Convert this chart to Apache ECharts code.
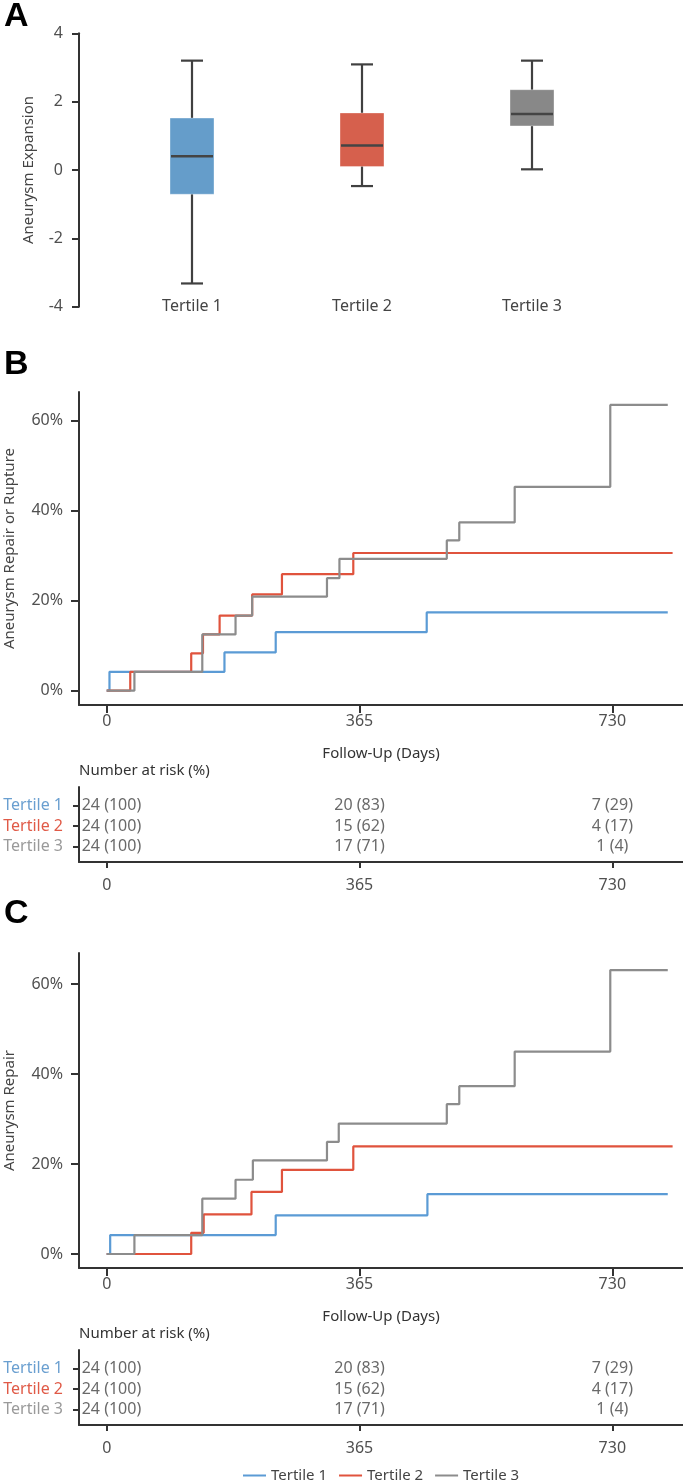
<!DOCTYPE html>
<html><head><meta charset="utf-8">
<script src="https://cdn.jsdelivr.net/npm/echarts@6/dist/echarts.min.js"></script>
<style>html,body{margin:0;padding:0;background:#fff}#c{width:683px;height:1483px}</style>
</head><body><div id="c"></div>
<script>
// ---------- DATA ----------
const tertiles = ['Tertile 1', 'Tertile 2', 'Tertile 3'];

// Panel A: aneurysm expansion box plots
const boxMin    = [-3.32, -0.47, 0.02];
const boxQ1     = [-0.71,  0.10, 1.29];
const boxMedian = [ 0.40,  0.72, 1.64];
const boxQ3     = [ 1.52,  1.67, 2.35];
const boxMax    = [ 3.20,  3.09, 3.20];

// Panel B: repair or rupture (cumulative %, step at given day)
const bDays1 = [0, 4, 170, 244, 462, 810];
const bPct1  = [0, 4.2, 8.5, 13.0, 17.4, 17.4];
const bDays2 = [0, 34, 122, 139, 163, 210, 253, 356, 817];
const bPct2  = [0, 4.2, 8.3, 12.5, 16.7, 21.4, 25.9, 30.6, 30.6];
const bDays3 = [0, 40, 138, 186, 210, 318, 336, 491, 509, 589, 727, 810];
const bPct3  = [0, 4.2, 12.5, 16.7, 20.9, 25.0, 29.3, 33.4, 37.4, 45.3, 63.5, 63.5];

// Panel C: repair only
const cDays1 = [0, 5, 244, 463, 810];
const cPct1  = [0, 4.2, 8.6, 13.3, 13.3];
const cDays2 = [0, 122, 140, 209, 253, 356, 817];
const cPct2  = [0, 4.7, 8.8, 13.8, 18.7, 23.9, 23.9];
const cDays3 = [0, 40, 138, 186, 211, 318, 335, 491, 509, 589, 727, 810];
const cPct3  = [0, 4.2, 12.3, 16.5, 20.8, 24.9, 29.0, 33.3, 37.3, 45.0, 63.1, 63.1];

// Number at risk
const riskDays = [0, 365, 730];
const riskN1 = [24, 20, 7];  const riskP1 = [100, 83, 29];
const riskN2 = [24, 15, 4];  const riskP2 = [100, 62, 17];
const riskN3 = [24, 17, 1];  const riskP3 = [100, 71, 4];

// Tick labels
const dayTicks = [0, 365, 730];
const pctTicks = [0, 20, 40, 60];

// ---------- STYLE ----------
const FONT = 'Noto Sans';
const boxColors  = ['#659dca', '#d6604d', '#888888'];
const lineColors = ['#5b9bd5', '#e0533d', '#8c8c8c'];
const labelColors = ['#6a9fd0', '#e05a47', '#9a9a9a'];
const AX = '#333';
const TICK_TXT = '#505050';

const chart = echarts.init(document.getElementById('c'), null, {renderer: 'canvas'});

function kmXAxis(gridIndex, name) {
  return {
    type: 'value', gridIndex, min: -40, max: 832,
    axisLine: {show: true, onZero: false, lineStyle: {color: AX, width: 2}},
    axisTick: {show: true, customValues: dayTicks, length: name ? 8 : 6, lineStyle: {color: AX, width: 2}},
    axisLabel: {customValues: dayTicks, margin: name ? 8 : 15, fontFamily: FONT, fontSize: 16, color: TICK_TXT},
    splitLine: {show: false},
    name: name || '', nameLocation: 'middle', nameGap: 41,
    nameTextStyle: {fontFamily: FONT, fontSize: 15, color: '#333'}
  };
}
function kmYAxis(gridIndex, min, max, name) {
  return {
    type: 'value', gridIndex, min, max,
    axisLine: {show: true, onZero: false, lineStyle: {color: AX, width: 2}},
    axisTick: {show: true, customValues: pctTicks, length: 8, lineStyle: {color: AX, width: 2}},
    axisLabel: {customValues: pctTicks, formatter: v => v + '%', margin: 16, fontFamily: FONT, fontSize: 16, color: TICK_TXT},
    splitLine: {show: false},
    name, nameLocation: 'middle', nameGap: 62,
    nameTextStyle: {fontFamily: FONT, fontSize: 15, color: '#444'}
  };
}
function riskYAxis(gridIndex) {
  return {
    type: 'value', gridIndex, inverse: true, min: 0.1, max: 3.75,
    axisLine: {show: true, onZero: false, lineStyle: {color: AX, width: 2}},
    axisTick: {show: true, customValues: [1, 2, 3], length: 6, lineStyle: {color: AX, width: 2}},
    axisLabel: {
      customValues: [1, 2, 3], margin: 16,
      formatter: v => '{t' + v + '|' + tertiles[v - 1] + '}',
      rich: {
        t1: {color: labelColors[0], fontFamily: FONT, fontSize: 16},
        t2: {color: labelColors[1], fontFamily: FONT, fontSize: 16},
        t3: {color: labelColors[2], fontFamily: FONT, fontSize: 16}
      }
    },
    splitLine: {show: false}
  };
}
function stepSeries(name, days, pct, idx, axisIndex) {
  return {
    type: 'line', name, step: 'end', xAxisIndex: axisIndex, yAxisIndex: axisIndex,
    data: days.map((d, i) => [d, pct[i]]), symbol: 'none', showSymbol: false,
    lineStyle: {color: lineColors[idx], width: 2.2}, itemStyle: {color: lineColors[idx]},
    z: 2 + idx, animation: false
  };
}
function riskSeries(axisIndex) {
  const ns = [riskN1, riskN2, riskN3], ps = [riskP1, riskP2, riskP3];
  const data = [], texts = [];
  ns.forEach((n, r) => riskDays.forEach((d, j) => {
    texts.push(n[j] + ' (' + ps[r][j] + ')');
    const item = {value: [d, r + 1]};
    if (j === 0) item.label = {align: 'left', offset: [-25, 0]};
    data.push(item);
  }));
  return {
    type: 'scatter', xAxisIndex: axisIndex, yAxisIndex: axisIndex, symbolSize: 0, silent: true,
    data, animation: false,
    label: {show: true, position: 'inside', formatter: p => texts[p.dataIndex],
      fontFamily: FONT, fontSize: 16, color: '#444'}
  };
}

const boxData = tertiles.map((t, i) => [i, boxMin[i], boxQ1[i], boxMedian[i], boxQ3[i], boxMax[i]]);
const G = {outerBoundsMode: 'none', containLabel: false};

const option = {
  backgroundColor: '#fff',
  animation: false,
  textStyle: {fontFamily: FONT},
  graphic: [
    {type: 'text', left: 4, top: 0, style: {text: 'A', font: 'bold 34px "Liberation Sans", Arial', fill: '#000'}},
    {type: 'text', left: 4, top: 348, style: {text: 'B', font: 'bold 34px "Liberation Sans", Arial', fill: '#000'}},
    {type: 'text', left: 4, top: 897, style: {text: 'C', font: 'bold 34px "Liberation Sans", Arial', fill: '#000'}},
    {type: 'text', left: 79, top: 763, style: {text: 'Number at risk (%)', font: '15px "Noto Sans"', fill: '#333'}},
    {type: 'text', left: 79, top: 1326, style: {text: 'Number at risk (%)', font: '15px "Noto Sans"', fill: '#333'}}
  ],
  legend: {
    data: tertiles, left: 238, top: 1463, icon: 'rect', itemWidth: 23, itemHeight: 2,
    itemGap: 12, textStyle: {fontFamily: FONT, fontSize: 15, color: '#444'}, selectedMode: false
  },
  grid: [
    Object.assign({left: 107, width: 510, top: 33.3, height: 273.4}, G),
    Object.assign({left: 79, right: 0, top: 392, height: 313}, G),
    Object.assign({left: 79, right: 0, top: 787, height: 75}, G),
    Object.assign({left: 79, right: 0, top: 953, height: 315}, G),
    Object.assign({left: 79, right: 0, top: 1350, height: 75}, G)
  ],
  xAxis: [
    {type: 'category', gridIndex: 0, data: tertiles,
     axisLine: {show: false}, axisTick: {show: false},
     axisLabel: {margin: -8, fontFamily: FONT, fontSize: 16, color: '#444'}},
    kmXAxis(1, 'Follow-Up (Days)'),
    kmXAxis(2, ''),
    kmXAxis(3, 'Follow-Up (Days)'),
    kmXAxis(4, '')
  ],
  yAxis: [
    {type: 'value', gridIndex: 0, min: -4, max: 4, interval: 2, offset: 28,
     axisLine: {show: true, onZero: false, lineStyle: {color: AX, width: 2}},
     axisTick: {show: true, length: 7, lineStyle: {color: AX, width: 2}},
     axisLabel: {margin: 16, fontFamily: FONT, fontSize: 16, color: TICK_TXT},
     splitLine: {show: false},
     name: 'Aneurysm Expansion', nameLocation: 'middle', nameGap: 43,
     nameTextStyle: {fontFamily: FONT, fontSize: 15, color: '#444'}},
    kmYAxis(1, -3.18, 66.38, 'Aneurysm Repair or Rupture'),
    riskYAxis(2),
    kmYAxis(3, -3.11, 66.9, 'Aneurysm Repair'),
    riskYAxis(4)
  ],
  series: [
    {
      type: 'custom', xAxisIndex: 0, yAxisIndex: 0, data: boxData,
      encode: {x: 0, y: [1, 2, 3, 4, 5]}, silent: true,
      renderItem: (params, api) => {
        const i = api.value(0);
        const pMin = api.coord([i, api.value(1)]);
        const pQ1 = api.coord([i, api.value(2)]);
        const pMed = api.coord([i, api.value(3)]);
        const pQ3 = api.coord([i, api.value(4)]);
        const pMax = api.coord([i, api.value(5)]);
        const x = pMin[0], hw = 22, cw = 11;
        const st = {stroke: '#404040', lineWidth: 2.2};
        return {type: 'group', children: [
          {type: 'line', shape: {x1: x, y1: pMax[1], x2: x, y2: pMin[1]}, style: st},
          {type: 'line', shape: {x1: x - cw, y1: pMax[1], x2: x + cw, y2: pMax[1]}, style: st},
          {type: 'line', shape: {x1: x - cw, y1: pMin[1], x2: x + cw, y2: pMin[1]}, style: st},
          {type: 'rect', shape: {x: x - hw, y: pQ3[1], width: 2 * hw, height: pQ1[1] - pQ3[1]},
           style: {fill: boxColors[i], stroke: 'rgba(255,255,255,0.35)', lineWidth: 1}},
          {type: 'line', shape: {x1: x - hw + 1, y1: pMed[1], x2: x + hw - 1, y2: pMed[1]},
           style: {stroke: '#444', lineWidth: 2.5}}
        ]};
      }
    },
    stepSeries('Tertile 1', bDays1, bPct1, 0, 1),
    stepSeries('Tertile 2', bDays2, bPct2, 1, 1),
    stepSeries('Tertile 3', bDays3, bPct3, 2, 1),
    riskSeries(2),
    stepSeries('Tertile 1', cDays1, cPct1, 0, 3),
    stepSeries('Tertile 2', cDays2, cPct2, 1, 3),
    stepSeries('Tertile 3', cDays3, cPct3, 2, 3),
    riskSeries(4)
  ]
};
chart.setOption(option);
</script>
</body></html>
